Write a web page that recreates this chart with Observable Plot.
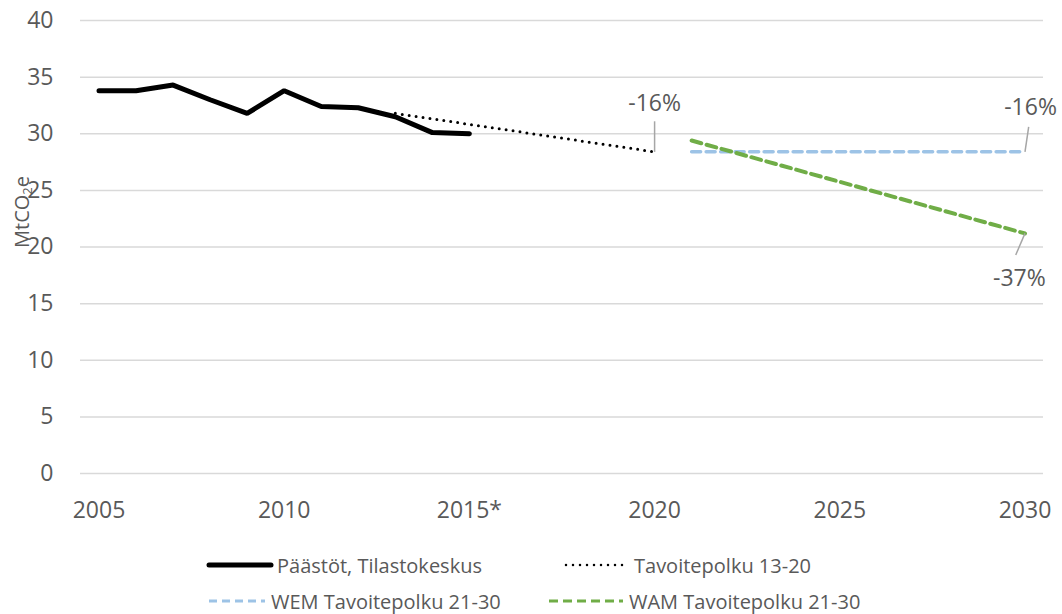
<!DOCTYPE html>
<html>
<head>
<meta charset="utf-8">
<script src="https://cdn.jsdelivr.net/npm/d3@7"></script>
<script src="https://cdn.jsdelivr.net/npm/@observablehq/plot@0.6"></script>
<style>
  html, body { margin: 0; padding: 0; background: #fff; }
  #wrap { position: relative; width: 1062px; height: 614px; font-family: "Open Sans", sans-serif; color: #595959; }
  #ylabel { position: absolute; left: 22px; top: 212px; transform: translate(-50%, -50%) rotate(-90deg); font-size: 20px; white-space: nowrap; }
  #ylabel sub { font-size: 13px; vertical-align: -3px; }
  .leg { position: absolute; display: flex; align-items: center; font-size: 20px; white-space: nowrap; height: 30px; }
  .leg svg { margin-right: 3px; }
</style>
</head>
<body>
<div id="wrap">
  <div id="chart"></div>
  <div id="ylabel">MtCO<sub>2</sub>e</div>
  <div id="legend"></div>
</div>
<script>
// Historical emissions (Päästöt, Tilastokeskus)
const emissionYears = [2005, 2006, 2007, 2008, 2009, 2010, 2011, 2012, 2013, 2014, 2015];
const emissionValues = [33.8, 33.8, 34.3, 33.0, 31.8, 33.8, 32.4, 32.3, 31.5, 30.1, 30.0];
// Tavoitepolku 13-20
const path1320Years = [2013, 2020];
const path1320Values = [31.8, 28.4];
// WEM Tavoitepolku 21-30
const wemYears = [2021, 2030];
const wemValues = [28.4, 28.4];
// WAM Tavoitepolku 21-30
const wamYears = [2021, 2030];
const wamValues = [29.4, 21.2];
// Axis ticks
const xTicks = [2005, 2010, 2015, 2020, 2025, 2030];
const xTickLabels = ["2005", "2010", "2015*", "2020", "2025", "2030"];
const yTicks = [0, 5, 10, 15, 20, 25, 30, 35, 40];
// Annotations
const annoYears = [2020, 2030, 2030];
const annoValues = [28.4, 28.4, 21.2];
const annoLabels = ["-16%", "-16%", "-37%"];
const annoLeaderEndYears = [2020, 2030.1, 2029.75];
const annoLeaderEndValues = [31.1, 30.6, 19.3];
const annoTextYears = [2020, 2030.15, 2029.85];
const annoTextValues = [32.7, 32.3, 17.2];

const series = (xs, ys) => xs.map((x, i) => ({x, y: ys[i]}));
const emissions = series(emissionYears, emissionValues);
const path1320 = series(path1320Years, path1320Values);
const wem = series(wemYears, wemValues);
const wam = series(wamYears, wamValues);
const annos = annoYears.map((x, i) => ({
  x, y: annoValues[i], label: annoLabels[i],
  lx: annoLeaderEndYears[i], ly: annoLeaderEndValues[i],
  tx: annoTextYears[i], ty: annoTextValues[i]
}));

const chart = Plot.plot({
  width: 1062,
  height: 530,
  marginLeft: 80,
  marginRight: 19,
  marginTop: 20,
  marginBottom: 57,
  x: {domain: [2004.5, 2030.5]},
  y: {domain: [0, 40]},
  style: {fontFamily: "Open Sans, sans-serif", fontSize: "23px", color: "#595959", background: "white"},
  marks: [
    Plot.gridY(yTicks, {stroke: "#d9d9d9", strokeOpacity: 1, strokeWidth: 1.5}),
    Plot.axisX(xTicks, {tickSize: 0, tickPadding: 28, tickFormat: d => xTickLabels[xTicks.indexOf(d)], label: null, fill: "#595959"}),
    Plot.axisY(yTicks, {tickSize: 0, tickPadding: 27, label: null, fill: "#595959"}),
    Plot.line(path1320, {x: "x", y: "y", stroke: "black", strokeWidth: 3, strokeDasharray: "0,7", strokeLinecap: "round"}),
    Plot.line(wem, {x: "x", y: "y", stroke: "#9dc3e6", strokeWidth: 3.5, strokeDasharray: "9,5.5"}),
    Plot.line(wam, {x: "x", y: "y", stroke: "#70ad47", strokeWidth: 4, strokeDasharray: "10,5.5"}),
    Plot.line(emissions, {x: "x", y: "y", stroke: "black", strokeWidth: 5, strokeLinecap: "round", strokeLinejoin: "miter"}),
    Plot.link(annos, {x1: "x", y1: "y", x2: "lx", y2: "ly", stroke: "#a6a6a6", strokeWidth: 1.5}),
    Plot.text(annos, {x: "tx", y: "ty", text: "label", fill: "#595959", fontSize: 23, textAnchor: "middle"})
  ]
});
document.getElementById("chart").appendChild(chart);

// Legend
const legendItems = [
  {label: "Päästöt, Tilastokeskus", stroke: "black", width: 5, dash: null, cap: "round", left: 206, top: 550, sw: 68},
  {label: "Tavoitepolku 13-20", stroke: "black", width: 2.5, dash: "0,7", cap: "round", left: 563, top: 550, sw: 68},
  {label: "WEM Tavoitepolku 21-30", stroke: "#9dc3e6", width: 3, dash: "8,5", cap: "butt", left: 206, top: 586, sw: 62},
  {label: "WAM Tavoitepolku 21-30", stroke: "#70ad47", width: 3, dash: "9,5", cap: "butt", left: 546, top: 586, sw: 80}
];
const legend = document.getElementById("legend");
legendItems.forEach(it => {
  const div = document.createElement("div");
  div.className = "leg";
  div.style.left = it.left + "px";
  div.style.top = it.top + "px";
  const ns = "http://www.w3.org/2000/svg";
  const svg = document.createElementNS(ns, "svg");
  svg.setAttribute("width", it.sw);
  svg.setAttribute("height", 10);
  const ln = document.createElementNS(ns, "line");
  ln.setAttribute("x1", 3); ln.setAttribute("x2", it.sw - 3);
  ln.setAttribute("y1", 5); ln.setAttribute("y2", 5);
  ln.setAttribute("stroke", it.stroke);
  ln.setAttribute("stroke-width", it.width);
  ln.setAttribute("stroke-linecap", it.cap);
  if (it.dash) ln.setAttribute("stroke-dasharray", it.dash);
  svg.appendChild(ln);
  div.appendChild(svg);
  const span = document.createElement("span");
  span.textContent = it.label;
  div.appendChild(span);
  legend.appendChild(div);
});
</script>
</body>
</html>
